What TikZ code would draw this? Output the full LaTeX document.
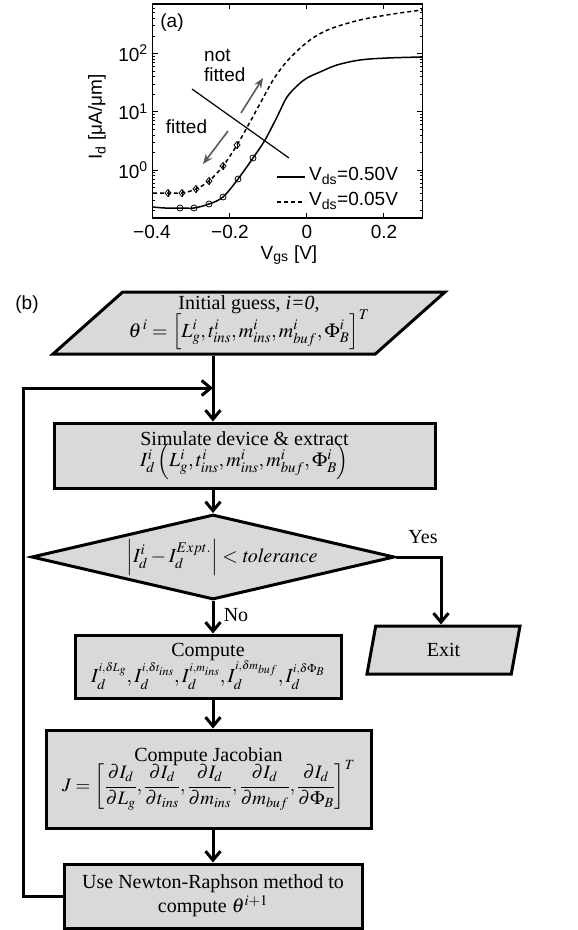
\documentclass[tikz,border=0pt]{standalone}
\usepackage{mathptmx}
\usepackage[no-math]{fontspec}
\setmainfont{Liberation Serif}
\newfontfamily\plotfont{Liberation Sans}
\usetikzlibrary{arrows.meta,shapes.geometric,calc}
\definecolor{boxgray}{RGB}{217,217,217}
\definecolor{arrgray}{RGB}{90,90,90}
\newcommand{\ssup}[1]{^{\scriptscriptstyle #1}}
\begin{document}
\begin{tikzpicture}[x=1pt,y=-1pt,
  ptext/.style={font=\plotfont\fontsize{19}{20}\selectfont, inner sep=0pt},
  box/.style={draw=black, line width=3pt, fill=boxgray, inner sep=0pt, align=center,
    font=\fontsize{20}{24}\selectfont},
  io/.style={box, trapezium, trapezium stretches body},
  dec/.style={box, diamond, aspect=4.27},
  arr/.style={line width=3pt, -{Straight Barb[length=9pt,width=15pt]}},
  flow/.style={line width=3pt},
  lbl/.style={font=\fontsize{20}{24}\selectfont, inner sep=0pt},
  axis/.style={line width=1.2pt},
  curve/.style={line width=1.5pt},
  mk/.style={line width=0.8pt},
  garrow/.style={line width=1.6pt, draw=arrgray, -{Stealth[length=10pt,width=8pt]}}
]
\useasboundingbox (0,0) rectangle (578,930);

% ---------------- plot (a) ----------------
\draw[axis] (152.7,4) rectangle (422.3,218);
\foreach \xx in {152.7,229.7,306.7,383.7}{
  \draw[axis] (\xx,218) -- (\xx,213);
  \draw[axis] (\xx,4) -- (\xx,9);
}
\foreach \d in {-1,0,1,2}{
  \foreach \k in {1,...,9}{
    \pgfmathsetmacro\yy{170-58.3*(\d+log10(\k))}
    \pgfmathsetmacro\tl{\k==1 ? 5 : 2.5}
    \ifdim\yy pt<217pt \ifdim\yy pt>5pt
      \draw[line width=0.7pt] (152.7,\yy) -- ++(\tl,0);
      \draw[line width=0.7pt] (422.3,\yy) -- ++(-\tl,0);
    \fi\fi
  }
}
\node[ptext] (xl1) at (152,232) {−0.4};
\node[ptext] (xl2) at (230,232) {−0.2};
\node[ptext] (xl3) at (307,232) {0};
\node[ptext] (xl4) at (384,232) {0.2};
\node[ptext, anchor=east] (yl2) at (148,53.3) {10\textsuperscript{2}};
\node[ptext, anchor=east] (yl1) at (148,111.7) {10\textsuperscript{1}};
\node[ptext, anchor=east] (yl0) at (148,170) {10\textsuperscript{0}};
\node[ptext] (xlab) at (289,255) {V\textsubscript{gs} [V]};
\node[ptext, rotate=90] (ylab) at (97,117) {I\textsubscript{d} [μA/μm]};
\node[ptext] (pa) at (172,23) {(a)};

\draw[curve] plot[smooth, tension=0.55] coordinates {(153,207) (165,208) (180,208) (194,208) (209,204) (223,197) (238,179) (253,158) (265,140) (277,117) (287,97) (298,85) (307,78) (320,72) (337,65) (360,60) (387,58) (422,57)};
\draw[curve, dash pattern=on 4pt off 3pt] plot[smooth, tension=0.55] coordinates {(153,193) (168,193) (182,193) (196,189) (209,181) (223,166) (237,145) (250,122) (262,100) (275,77) (290,58) (310,40) (330,29) (360,20) (393,14) (422,10)};
\foreach \px/\py in {180/208,194/208,209/204,223/197,238/179,253/158}{
  \draw[mk] (\px,\py) circle (3);
}
\foreach \px/\py in {168/193,182/193,196/189,209/181,223/166,237/145}{
  \draw[mk] (\px-3,\py) -- (\px,\py-3.5) -- (\px+3,\py) -- (\px,\py+3.5) -- cycle;
  \draw[mk] (\px,\py-3.5) -- (\px,\py+3.5);
}
\draw[axis] (192,89) -- (289,158);
\draw[garrow] (241,113) -- (263,78);
\draw[garrow] (228,131) -- (203,164);
\node[ptext, anchor=west, align=left] (nf) at (204,65) {not\\fitted};
\node[ptext] (fi) at (186.5,127) {fitted};
\draw[curve] (277,177) -- (305,177);
\draw[curve, dash pattern=on 4pt off 3pt] (277,202) -- (305,202);
\node[ptext, anchor=west] (lg1) at (309,176) {V\textsubscript{ds}=0.50V};
\node[ptext, anchor=west] (lg2) at (309,201) {V\textsubscript{ds}=0.05V};

% ---------------- flowchart (b) ----------------
\node[ptext] (pb) at (27,305) {(b)};
\coordinate (spine) at (213,0);
\coordinate (j) at (213,388);
\coordinate (fbx) at (23,0);
\coordinate (yesx) at (441,0);

\node[io, trapezium left angle=37.8, trapezium right angle=142.2,
  minimum width=392, minimum height=62] (init) at (249,323)
  {Initial guess, \textit{i=0},\\[-5pt]
   $\theta^{\,i}=\left[L_g^i,t_{ins}^i,m_{ins}^i,m_{buf}^i,\Phi_B^i\right]^T$};
\node[box, minimum width=381, minimum height=65] (sim) at (244.5,455.5)
  {Simulate device \& extract\\[-3pt]
   $I_d^i\left(L_g^i,t_{ins}^i,m_{ins}^i,m_{buf}^i,\Phi_B^i\right)$};
\node[dec, minimum width=337, minimum height=79] (dec) at (213,557)
  {\hspace*{18pt}$\left|I_d^i-I_d^{Expt.}\right|<\mathit{tolerance}$};
\node[box, minimum width=266, minimum height=63] (comp) at (208,666.5)
  {Compute\\[-2pt]
   $I_d\ssup{i,\delta L_g},I_d\ssup{i,\delta t_{ins}},I_d\ssup{i,m_{ins}},I_d\ssup{i,\delta m_{buf}},I_d\ssup{i,\delta\Phi_B}$};
\node[box, minimum width=325, minimum height=98] (jac) at (208.5,779)
  {Compute Jacobian\\[-6pt]
   {\fontsize{19}{22}\selectfont$\displaystyle J=\left[\frac{\partial I_d}{\partial L_g},\frac{\partial I_d}{\partial t_{ins}},\frac{\partial I_d}{\partial m_{ins}},\frac{\partial I_d}{\partial m_{buf}},\frac{\partial I_d}{\partial\Phi_B}\right]^T$}};
\node[box, minimum width=298, minimum height=64] (newt) at (213,896)
  {Use Newton-Raphson method to\\ compute $\theta^{i+1}$};
\node[io, trapezium left angle=57, trapezium right angle=123,
  minimum width=153, minimum height=48] (exit) at (443.5,650) {Exit};

\node[lbl] (yes) at (423,537) {Yes};
\node[lbl] (no) at (236,615) {No};

% connectors
\draw[flow] (init.south -| spine) -- (j);
\draw[arr] (j) -- (sim.north -| spine);
\draw[arr] (sim.south -| spine) -- (dec.north);
\draw[arr] (dec.south) -- (comp.north -| spine);
\draw[arr] (comp.south -| spine) -- (jac.north -| spine);
\draw[arr] (jac.south -| spine) -- (newt.north -| spine);
\draw[arr] (dec.east) -| (exit.north -| yesx);
\draw[arr] (newt.west) -- (newt.west -| fbx) -- (fbx |- j) -- (j);
\end{tikzpicture}
\end{document}
